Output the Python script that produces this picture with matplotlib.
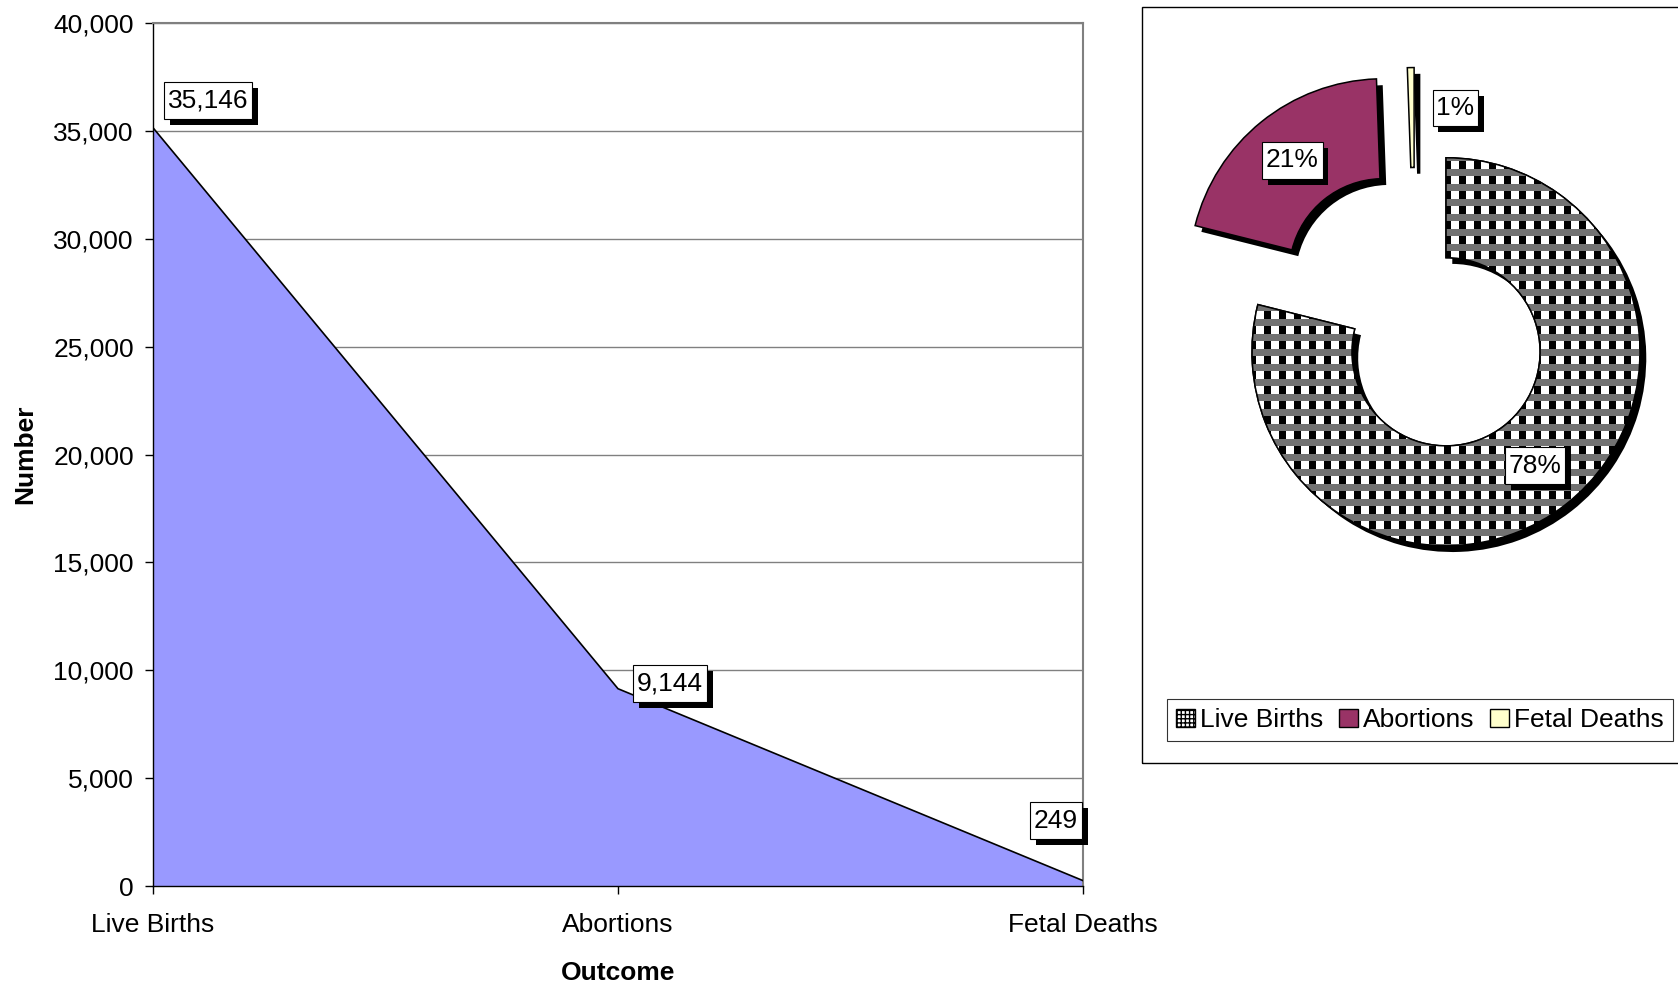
import numpy as np
import matplotlib
matplotlib.use("Agg")
import matplotlib.pyplot as plt
import matplotlib.patheffects as pe
from matplotlib.patches import Patch, Rectangle, Wedge
from matplotlib.path import Path
from matplotlib.ticker import FuncFormatter

# data
outcomes = ["Live Births", "Abortions", "Fetal Deaths"]
counts = [35146, 9144, 249]
value_labels = ["35,146", "9,144", "249"]
pie_labels = ["78%", "21%", "1%"]

area_color = "#9999FF"
pie_colors = ["white", "#993366", "#FFFFCC"]

W, H, DPI = 1678, 982, 100
FS = 19
plt.rcParams["font.family"] = ["Liberation Sans", "DejaVu Sans"]
plt.rcParams["font.size"] = FS

fig = plt.figure(figsize=(W / DPI, H / DPI), dpi=DPI)


def px_rect(x0, y0, x1, y1):
    # pixel box (y pointing down) -> [left, bottom, width, height] in figure fraction
    return [x0 / W, 1 - y1 / H, (x1 - x0) / W, (y1 - y0) / H]


def box_shadow(pts=4.3):
    return [pe.SimplePatchShadow(offset=(pts, -pts), shadow_rgbFace="black", alpha=1.0), pe.Normal()]


def label_box(x0, y0, width, height, mutation_size):
    # Excel-like label box: tight at the sides, roomier top and bottom
    px, py = 0.14 * mutation_size, 0.24 * mutation_size
    return Path([(x0 - px, y0 - py), (x0 + width + px, y0 - py),
                 (x0 + width + px, y0 + height + py), (x0 - px, y0 + height + py),
                 (x0 - px, y0 - py)], closed=True)


def add_label_bbox(t):
    t.set_bbox(dict(boxstyle=label_box, fc="white", ec="black", lw=0.8))
    t.get_bbox_patch().set_path_effects(box_shadow())


# ---- area chart ----
ax = fig.add_axes(px_rect(153, 23, 1083, 886))
x = np.arange(len(outcomes))
ax.fill_between(x, counts, color=area_color, lw=0, zorder=2)
ax.plot(x, counts, color="black", lw=1.2, zorder=3)
ax.set_xlim(0, len(outcomes) - 1)
ax.set_ylim(0, 40000)
ax.set_yticks(np.arange(0, 40001, 5000))
ax.yaxis.set_major_formatter(FuncFormatter(lambda v, p: "{:,.0f}".format(v)))
ax.set_xticks(x)
ax.set_xticklabels(outcomes)
ax.grid(axis="y", color="#808080", lw=1)
ax.set_axisbelow(True)
for side in ["top", "right"]:
    ax.spines[side].set_color("#808080")
    ax.spines[side].set_linewidth(1.5)
for side in ["left", "bottom"]:
    ax.spines[side].set_color("black")
    ax.spines[side].set_linewidth(1)
ax.tick_params(direction="out", length=5.8, width=1, labelsize=FS)
ax.tick_params(axis="y", pad=8)
ax.tick_params(axis="x", pad=14)
ax.set_ylabel("Number", fontweight="bold", fontsize=FS)
ax.yaxis.set_label_coords(-0.124, 0.5)
ax.set_xlabel("Outcome", fontweight="bold", fontsize=FS)
ax.xaxis.set_label_coords(0.5, -0.087)

# data labels (offsets in pixels from each point)
label_offsets = [(55, 27), (52, 5), (-27, 60)]
for xi, v, s, off in zip(x, counts, value_labels, label_offsets):
    t = ax.annotate(s, (xi, v), xytext=off, textcoords="offset pixels",
                    ha="center", va="center", zorder=6, annotation_clip=False)
    add_label_bbox(t)

# ---- exploded doughnut ----
fig.add_artist(Rectangle((1142 / W, 1 - 763 / H), (1700 - 1142) / W, (763 - 7) / H,
                         transform=fig.transFigure, fill=False, ec="black", lw=1))

R_PX = 194
HALF = 256
CX, CY = 1415, 312
pax = fig.add_axes(px_rect(CX - HALF, CY - HALF, CX + HALF, CY + HALF))
wedges, _ = pax.pie(counts, colors=pie_colors, startangle=90, counterclock=False,
                    explode=[0.26] * 3, radius=1,
                    wedgeprops=dict(width=0.515, edgecolor="black", linewidth=1.1))
lim = HALF / R_PX
for w in wedges:
    w.set_path_effects(box_shadow(4.5))
    w.set_zorder(1)

# checkered texture for the Live Births ring
tile = np.ones((15, 15))
tile[:8, :7] = 0
tile[8:, :] = 0.45
tex = np.tile(tile, (2 * HALF // 15 + 1, 2 * HALF // 15 + 1))[:2 * HALF, :2 * HALF]
im = pax.imshow(np.dstack([tex] * 3), extent=(-lim, lim, -lim, lim),
                interpolation="nearest", zorder=1.5)
lb = wedges[0]
im.set_clip_path(lb)
pax.add_patch(Wedge(lb.center, lb.r, lb.theta1, lb.theta2, width=lb.width,
                    fill=False, ec="black", lw=1.1, zorder=2))
pax.set_xlim(-lim, lim)
pax.set_ylim(-lim, lim)
pax.set_axis_off()

# percent labels; the thin slice gets its label pushed outward
lab_radius = [0.745, 0.745, 0.82]
lab_turn = [0, 0, -16]
for w, s, rr, turn in zip(wedges, pie_labels, lab_radius, lab_turn):
    mid = np.deg2rad((w.theta1 + w.theta2) / 2 + turn)
    cx, cy = w.center
    t = pax.text(cx + rr * np.cos(mid), cy + rr * np.sin(mid), s, ha="center", va="center",
                 zorder=6, fontsize=FS)
    add_label_bbox(t)

handles = [Patch(facecolor="white", edgecolor="black", hatch="++++"),
           Patch(facecolor=pie_colors[1], edgecolor="black"),
           Patch(facecolor=pie_colors[2], edgecolor="black")]
leg = fig.legend(handles, outcomes, loc="center",
                 bbox_to_anchor=(1420 / W, 1 - 720 / H), ncol=3,
                 frameon=True, fancybox=False, edgecolor="black", fontsize=FS,
                 handlelength=0.7, handleheight=0.7, handletextpad=0.2,
                 columnspacing=0.6, borderpad=0.35, borderaxespad=0)
leg.get_frame().set_linewidth(0.8)

fig.savefig("out.png", dpi=DPI)
